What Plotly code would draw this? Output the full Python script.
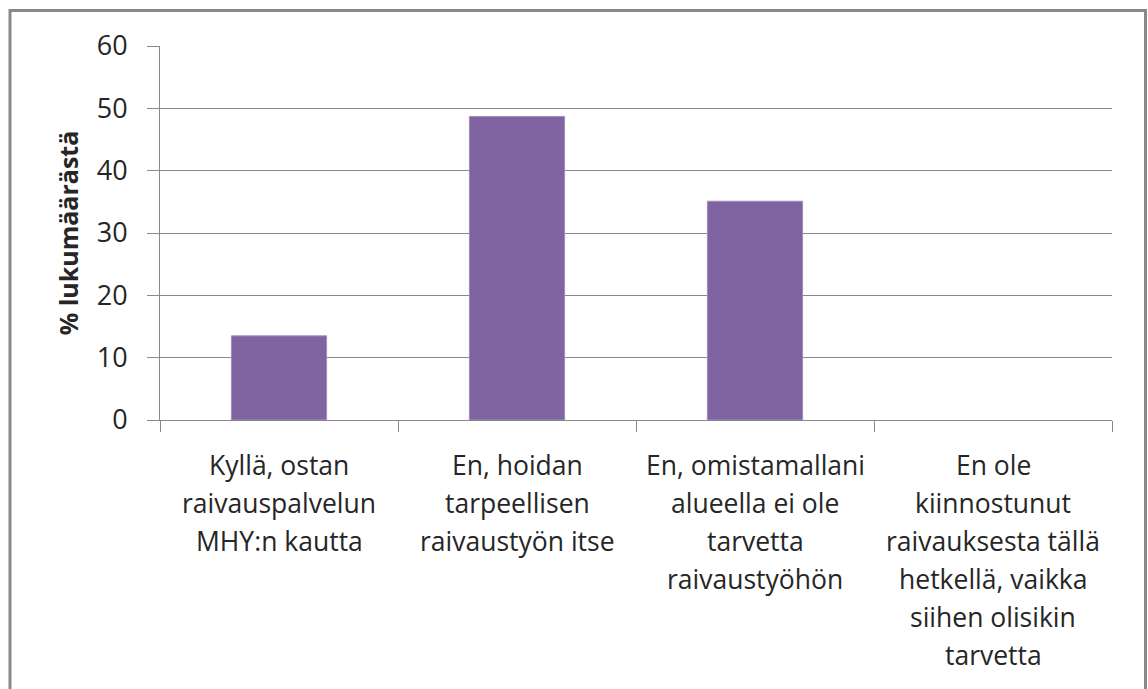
import plotly.graph_objects as go

categories = [
    "Kyllä, ostan\nraivauspalvelun\nMHY:n kautta",
    "En, hoidan\ntarpeellisen\nraivaustyön itse",
    "En, omistamallani\nalueella ei ole\ntarvetta\nraivaustyöhön",
    "En ole\nkiinnostunut\nraivauksesta tällä\nhetkellä, vaikka\nsiihen olisikin\ntarvetta",
]
values = [13.5, 48.7, 35.1, 0]
y_ticks = [0, 10, 20, 30, 40, 50, 60]
y_title = "% lukumäärästä"

W, H = 1148, 689
L, R, T, B = 160, 1112, 46, 420

def px(x):
    return (x - L) / (R - L)

def py(y):
    return (B - y) / (B - T)

font_family = "'Open Sans', Lato, sans-serif"
grid = "#898989"
text_color = "#262626"
line_gap = 38

fig = go.Figure(go.Bar(
    x=categories, y=values,
    marker=dict(color="#8064A2",
                line=dict(color="#a08dbf", width=[1 if v > 0 else 0 for v in values])),
    width=0.4,
))

annotations = []
for cat in categories:
    for i, line in enumerate(cat.split("\n")):
        annotations.append(dict(
            x=cat, xref="x", y=0, yref="y",
            text=line, showarrow=False,
            xanchor="center", yanchor="middle",
            yshift=-(45 + i * line_gap),
            font=dict(family=font_family, size=26.5, color=text_color),
        ))

fig.update_layout(
    width=W, height=H,
    margin=dict(l=L, r=W - R, t=T, b=H - B),
    paper_bgcolor="white", plot_bgcolor="white",
    showlegend=False,
    font=dict(family=font_family, size=24, color=text_color),
    xaxis=dict(
        showline=True, linecolor=grid, linewidth=1,
        ticks="outside", tickson="boundaries", ticklen=11, tickcolor=grid,
        showticklabels=False,
        showgrid=False,
    ),
    yaxis=dict(
        range=[0, 60], tickvals=y_ticks,
        showline=True, linecolor=grid, linewidth=1,
        ticks="outside", ticklen=12, tickcolor=grid,
        ticklabelstandoff=14,
        showgrid=True, gridcolor=grid, gridwidth=1,
        zeroline=False,
        tickfont=dict(size=27),
        title=dict(text="<b>" + y_title + "</b>", font=dict(size=25), standoff=10),
    ),
    annotations=annotations,
    shapes=[
        dict(type="rect", xref="paper", yref="paper",
             x0=px(10), x1=px(1145.5), y0=py(720), y1=py(10.5),
             line=dict(color="#888888", width=3), fillcolor="rgba(0,0,0,0)",
             layer="below"),
    ],
)

fig.write_html("out.html", config={"displayModeBar": False},
               post_script="document.body.style.margin='0';")
